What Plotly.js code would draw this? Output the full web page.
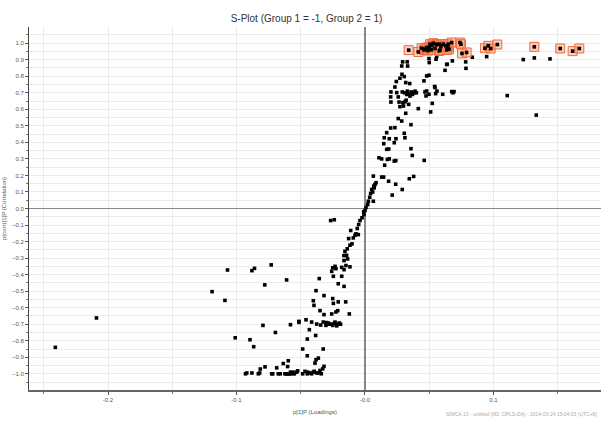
<!DOCTYPE html>
<html>
<head>
<meta charset="utf-8">
<script src="https://cdn.plot.ly/plotly-3.0.1.min.js"></script>
<style>
html,body{margin:0;padding:0;background:#fff;}
#chart{width:601px;height:421px;}
</style>
</head>
<body>
<div id="chart"></div>
<script>
// Loadings p[1]P (x) and correlation p(corr)[1]P (y) of ordinary variables
var loadX = [
 -0.241,-0.209,-0.119,-0.109,-0.107,-0.088,-0.086,-0.073,-0.078,-0.061,
 -0.101,-0.0895,-0.0866,-0.0794,-0.0697,-0.058,-0.0514,
 -0.093,-0.092,-0.088,-0.083,-0.082,-0.0815,-0.0778,-0.0718,-0.0687,-0.0675,-0.066,-0.0636,-0.0612,-0.0602,-0.0597,-0.059,-0.058,-0.057,-0.056,-0.055,-0.0524,
 -0.0726,-0.0623,-0.0605,-0.0589,-0.057,-0.0532,-0.0485,-0.0467,-0.0449,-0.0428,-0.0402,-0.0376,-0.035,-0.0329,-0.0319,-0.0381,-0.0363,-0.0389,-0.0449,-0.0485,-0.0325,
 -0.0445,-0.0415,-0.0395,-0.0365,-0.034,
 -0.0433,-0.0384,-0.0449,-0.0514,
 -0.0459,-0.0415,-0.0376,-0.0345,-0.0325,-0.0304,-0.0286,-0.0267,-0.0251,-0.0233,-0.0215,-0.020,-0.028,-0.024,-0.022,-0.019,-0.030,
 -0.0267,-0.0239,
 -0.0008,-0.0023,-0.0039,-0.0049,-0.006,-0.007,-0.0052,-0.0078,-0.0091,-0.0111,-0.0127,-0.0101,-0.0117,-0.0138,-0.0156,-0.0143,-0.0164,-0.0135,-0.0163,-0.0148,-0.0181,-0.0117,-0.0163,-0.0251,-0.0233,-0.0226,-0.0259,
 -0.0246,-0.0181,-0.0356,-0.0208,-0.0163,-0.0381,-0.0319,-0.0402,-0.0397,-0.0251,-0.0246,-0.0208,-0.015,-0.035,-0.0319,-0.0259,-0.0226,-0.0212,-0.0122,
 -0.001,0.0,0.0008,0.0021,0.0026,0.0037,0.0044,0.0052,0.0068,0.0078,0.0086,0.0065,0.0072,0.006,
 0.0293,0.0329,0.0286,0.0332,0.0288,0.0306,0.0272,0.0244,0.0317,0.0348,0.0233,
 0.0202,0.0247,0.029,0.031,0.033,0.034,0.036,0.037,0.038,0.039,0.040,0.0325,0.035,
 0.020,0.0259,0.0202,0.0265,0.0295,0.0311,0.032,0.0272,0.030,0.034,0.0415,0.0317,
 0.0259,0.0286,0.0358,
 0.020,0.0233,0.0169,0.0306,0.0311,0.015,0.0189,0.0241,0.0146,0.0228,
 0.0169,0.0185,0.0358,0.0368,0.0109,0.013,0.0174,0.0189,0.0228,0.024,0.0461,0.0153,
 0.0065,0.013,0.0145,0.0184,0.0345,0.0379,0.0239,0.029,0.0212,
 0.050,0.0498,0.0553,0.0558,0.064,0.068,0.0623,0.048,0.0498,0.0459,0.0542,0.048,0.0498,0.055,0.056,0.0605,0.0675,0.0693,0.0685,0.0524,0.0511,0.0475,0.0467,0.0545,
 0.0784,0.0786,0.0835,0.0947,0.1232,0.1318,0.144,0.1107,0.1333,0.0636
];
var corrY = [
 -0.84,-0.662,-0.503,-0.556,-0.372,-0.376,-0.362,-0.341,-0.462,-0.432,
 -0.782,-0.794,-0.836,-0.707,-0.75,-0.703,-0.689,
 -1.0,-0.995,-0.995,-1.0,-0.995,-0.971,-0.958,-1.0,-0.964,-1.0,-1.0,-0.938,-1.0,-0.956,-0.921,-1.0,-0.99,-1.0,-0.99,-1.0,-0.982,
 -1.0,-1.0,-1.0,-1.0,-0.995,-0.99,-1.0,-0.985,-1.0,-0.995,-0.99,-0.995,-0.98,-0.97,-0.955,-0.915,-0.905,-0.935,-0.891,-0.85,-0.85,
 -0.99,-1.0,-0.985,-0.995,-1.0,
 -0.733,-0.768,-0.79,-0.683,
 -0.673,-0.687,-0.699,-0.705,-0.687,-0.707,-0.693,-0.699,-0.707,-0.687,-0.699,-0.693,-0.70,-0.695,-0.71,-0.70,-0.69,
 -0.073,-0.068,
 -0.036,-0.056,-0.073,-0.097,-0.121,-0.153,-0.158,-0.162,-0.178,-0.133,-0.182,-0.214,-0.222,-0.244,-0.259,-0.283,-0.285,-0.305,-0.315,-0.345,-0.356,-0.353,-0.37,-0.359,-0.35,-0.364,-0.38,
 -0.41,-0.41,-0.424,-0.455,-0.471,-0.497,-0.527,-0.558,-0.586,-0.545,-0.574,-0.565,-0.565,-0.618,-0.642,-0.638,-0.626,-0.618,-0.638,
 -0.02,-0.012,0.006,0.024,0.044,0.068,0.091,0.115,0.135,0.145,0.156,0.044,0.125,0.10,
 0.887,0.887,0.862,0.862,0.812,0.798,0.788,0.768,0.762,0.756,0.735,
 0.705,0.701,0.705,0.70,0.71,0.695,0.705,0.69,0.70,0.71,0.70,0.69,0.68,
 0.675,0.675,0.644,0.644,0.64,0.645,0.655,0.616,0.62,0.63,0.604,0.576,
 0.544,0.529,0.507,
 0.487,0.489,0.459,0.455,0.428,0.428,0.422,0.422,0.392,0.398,
 0.358,0.36,0.362,0.321,0.307,0.30,0.297,0.30,0.287,0.29,0.291,0.262,
 0.196,0.19,0.19,0.165,0.18,0.194,0.147,0.115,0.081,
 0.883,0.907,0.903,0.919,0.873,0.893,0.836,0.802,0.806,0.772,0.738,0.711,0.691,0.695,0.71,0.691,0.707,0.707,0.70,0.636,0.584,0.681,0.705,0.732,
 0.887,0.848,0.915,0.919,0.901,0.911,0.905,0.683,0.565,0.871
];
// Selected (highlighted) variables
var selX = [
 0.034,0.0415,0.0459,0.044,0.048,0.0506,0.0532,0.0545,0.056,0.0578,0.0584,0.0609,0.0628,0.0648,0.0654,0.0675,
 0.0739,0.0747,0.0755,0.0791,0.0934,0.096,0.0978,0.103,0.1318,0.152,0.1616,0.1668,
 0.0465,0.050,0.052,0.0555,0.059,0.0645,0.049,0.0515,0.0578,0.0636
];
var selY = [
 0.958,0.947,0.959,0.97,0.974,0.994,1.0,0.968,0.994,0.994,0.959,0.994,0.984,0.994,0.964,1.004,
 1.004,0.994,0.938,0.944,0.97,0.984,0.968,0.992,0.978,0.968,0.952,0.968,
 0.965,0.975,0.985,0.99,0.98,0.975,0.955,0.96,0.953,0.959
];
var xTickVals = [-0.2,-0.1,0.0,0.1];
var xTickText = ['-0.2','-0.1','-0.0','0.1'];

var FONT = '"Liberation Sans Narrow", "Liberation Sans", Arial, sans-serif';

var traces = [
 {x: loadX, y: corrY, type:'scatter', mode:'markers', hoverinfo:'x+y',
  marker:{symbol:'square', size:3.6, color:'#000'}},
 {x: selX, y: selY, type:'scatter', mode:'markers', hoverinfo:'x+y',
  marker:{symbol:'square', size:9, color:'rgba(250,150,110,0.45)', line:{color:'#f26a3a', width:1}}},
 {x: selX, y: selY, type:'scatter', mode:'markers', hoverinfo:'skip',
  marker:{symbol:'square', size:3.6, color:'#000'}}
];

var layout = {
 width:601, height:421,
 margin:{l:29, r:0, t:27, b:31, pad:0},
 paper_bgcolor:'#fff', plot_bgcolor:'#fff',
 showlegend:false,
 font:{family:FONT, size:6, color:'#555'},
 title:{text:'S-Plot (Group 1 = -1, Group 2 = 1)', x:0.51, xanchor:'center', y:0.957, yanchor:'middle',
        font:{family:FONT, size:10, color:'#333'}},
 xaxis:{range:[-0.2615,0.1837], tickvals:xTickVals, ticktext:xTickText,
        showgrid:true, gridcolor:'#ececec', gridwidth:1,
        zeroline:true, zerolinecolor:'#888', zerolinewidth:1.5,
        showline:true, linecolor:'#666', linewidth:2,
        ticks:'outside', ticklen:3, tickcolor:'#555',
        minor:{dtick:0.05, tick0:0, showgrid:true, gridcolor:'#ececec', ticks:'outside', ticklen:2, tickcolor:'#777'},
        tickfont:{family:FONT, size:6, color:'#555'},
        title:{text:'p[1]P (Loadings)', standoff:8, font:{family:FONT, size:6, color:'#555'}}},
 yaxis:{range:[-1.098,1.098], dtick:0.1, tick0:0, tickformat:'.1f',
        showgrid:true, gridcolor:'#ececec', gridwidth:1,
        zeroline:true, zerolinecolor:'#888', zerolinewidth:1.5,
        showline:true, linecolor:'#444', linewidth:1,
        ticks:'outside', ticklen:3, tickcolor:'#555',
        minor:{dtick:0.05, tick0:0, showgrid:true, gridcolor:'#ececec', ticks:'outside', ticklen:2, tickcolor:'#777'},
        tickfont:{family:FONT, size:6, color:'#555'},
        title:{text:'p(corr)[1]P (Correlation)', standoff:4, font:{family:FONT, size:6, color:'#555'}}},
 annotations:[
  {text:'SIMCA 13 - untitled (M2: OPLS-DA) - 2014-03-24 15:04:03 (UTC+8)', xref:'paper', yref:'paper',
   x:0.997, y:-0.079, xanchor:'right', yanchor:'bottom', showarrow:false,
   font:{family:FONT, size:5, color:'#aaa'}}
 ]
};

Plotly.newPlot('chart', traces, layout, {staticPlot:true, displayModeBar:false});
</script>
</body>
</html>
